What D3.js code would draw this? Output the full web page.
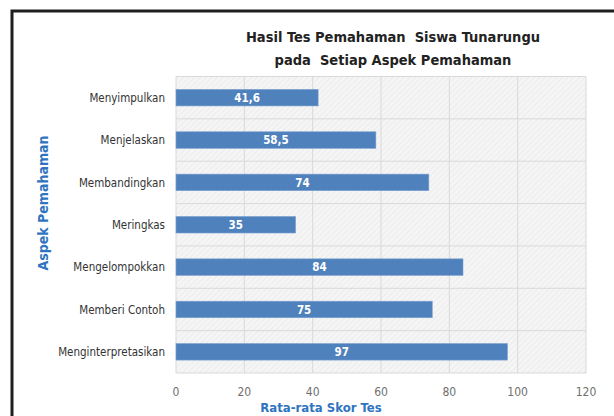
<!DOCTYPE html>
<html lang="id">
<head>
<meta charset="UTF-8">
<title>Hasil Tes Pemahaman</title>
<script src="https://cdn.jsdelivr.net/npm/d3@7"></script>
<style>
    html, body { margin: 0; background: #fff; overflow: hidden; }
    svg { display: block; overflow: hidden; font-family: "Liberation Sans Narrow", "DejaVu Sans Condensed", sans-serif; }
</style>
</head>
<body>
<div id="chart"></div>
<script>
    // data
    const categories = ['Menyimpulkan', 'Menjelaskan', 'Membandingkan', 'Meringkas',
        'Mengelompokkan', 'Memberi Contoh', 'Menginterpretasikan'];
    const scores = [41.6, 58.5, 74, 35, 84, 75, 97];
    const scoreLabels = ['41,6', '58,5', '74', '35', '84', '75', '97'];
    const xTicks = [0, 20, 40, 60, 80, 100, 120];

    const width = 614, height = 416;
    const plot = { left: 176, right: 586, top: 76.5, bottom: 373 };

    const svg = d3.select('#chart').append('svg')
        .attr('width', width)
        .attr('height', height);

    // hatch pattern for plot background
    const pat = svg.append('defs').append('pattern')
        .attr('id', 'hatch')
        .attr('patternUnits', 'userSpaceOnUse')
        .attr('width', 4).attr('height', 4)
        .attr('patternTransform', 'rotate(45)');
    pat.append('rect').attr('width', 4).attr('height', 4).attr('fill', '#f5f5f5');
    pat.append('line').attr('x1', 0).attr('y1', 0).attr('x2', 0).attr('y2', 4)
        .attr('stroke', '#e6e6e6').attr('stroke-width', 1.2);

    // outer frame, left and top edges only (rest is cut off)
    svg.append('path')
        .attr('d', d3.line()([[12, height], [12, 11], [width, 11]]))
        .attr('fill', 'none')
        .attr('stroke', '#1e1e1e')
        .attr('stroke-width', 3);

    const x = d3.scaleLinear().domain([0, 120]).range([plot.left, plot.right]);
    const y = d3.scaleBand().domain(categories).range([plot.top, plot.bottom]).paddingInner(0.61).paddingOuter(0.305);
    const yBand = d3.scaleBand().domain(categories).range([plot.top, plot.bottom]);

    svg.append('rect')
        .attr('x', plot.left).attr('y', plot.top)
        .attr('width', plot.right - plot.left).attr('height', plot.bottom - plot.top)
        .attr('fill', 'url(#hatch)');

    // vertical gridlines
    svg.append('g')
        .selectAll('line')
        .data(xTicks)
        .join('line')
        .attr('x1', d => x(d)).attr('x2', d => x(d))
        .attr('y1', plot.top).attr('y2', plot.bottom)
        .attr('stroke', '#d9d9d9').attr('stroke-width', 1);

    // horizontal gridlines between categories
    svg.append('g')
        .selectAll('line')
        .data(categories)
        .join('line')
        .attr('x1', plot.left).attr('x2', plot.right)
        .attr('y1', d => yBand(d)).attr('y2', d => yBand(d))
        .attr('stroke', '#d9d9d9').attr('stroke-width', 1);
    svg.append('line')
        .attr('x1', plot.left).attr('x2', plot.right)
        .attr('y1', plot.bottom).attr('y2', plot.bottom)
        .attr('stroke', '#d9d9d9');

    // bars
    svg.append('g')
        .selectAll('rect')
        .data(scores)
        .join('rect')
        .attr('x', x(0))
        .attr('y', (d, i) => y(categories[i]))
        .attr('width', d => x(d) - x(0))
        .attr('height', y.bandwidth())
        .attr('fill', '#4f81bd')
        .attr('stroke', '#7aa0d0')
        .attr('stroke-width', 0.6);

    // bar value labels
    svg.append('g')
        .selectAll('text')
        .data(scores)
        .join('text')
        .attr('x', d => (x(0) + x(d)) / 2)
        .attr('y', (d, i) => y(categories[i]) + y.bandwidth() / 2)
        .attr('dy', '0.36em')
        .attr('text-anchor', 'middle')
        .attr('fill', '#fff')
        .attr('font-size', 11.5)
        .attr('font-weight', 'bold')
        .text((d, i) => scoreLabels[i]);

    // category labels
    svg.append('g')
        .selectAll('text')
        .data(categories)
        .join('text')
        .attr('x', 165)
        .attr('y', d => yBand(d) + yBand.bandwidth() / 2)
        .attr('dy', '0.36em')
        .attr('text-anchor', 'end')
        .attr('fill', '#333')
        .attr('font-size', 11.5)
        .text(d => d);

    // x tick labels
    svg.append('g')
        .selectAll('text')
        .data(xTicks)
        .join('text')
        .attr('x', d => x(d))
        .attr('y', 392)
        .attr('dy', '0.36em')
        .attr('text-anchor', 'middle')
        .attr('fill', '#6f6f6f')
        .attr('font-size', 12)
        .text(d => d);

    // axis titles
    svg.append('text')
        .attr('x', 321).attr('y', 412)
        .attr('text-anchor', 'middle')
        .attr('fill', '#2e74c0')
        .attr('font-size', 13)
        .attr('font-weight', 'bold')
        .text('Rata-rata Skor Tes');

    svg.append('text')
        .attr('transform', 'translate(48,203) rotate(-90)')
        .attr('text-anchor', 'middle')
        .attr('fill', '#2e74c0')
        .attr('font-size', 14)
        .attr('font-weight', 'bold')
        .text('Aspek Pemahaman');

    // chart title
    const title = svg.append('text')
        .attr('text-anchor', 'middle')
        .attr('fill', '#222')
        .attr('font-size', 14.5)
        .attr('font-weight', 'bold');
    title.append('tspan').attr('x', 393).attr('y', 42).text('Hasil Tes Pemahaman  Siswa Tunarungu')
        .style('white-space', 'pre');
    title.append('tspan').attr('x', 393).attr('y', 65).text('pada  Setiap Aspek Pemahaman')
        .style('white-space', 'pre');
</script>
</body>
</html>
